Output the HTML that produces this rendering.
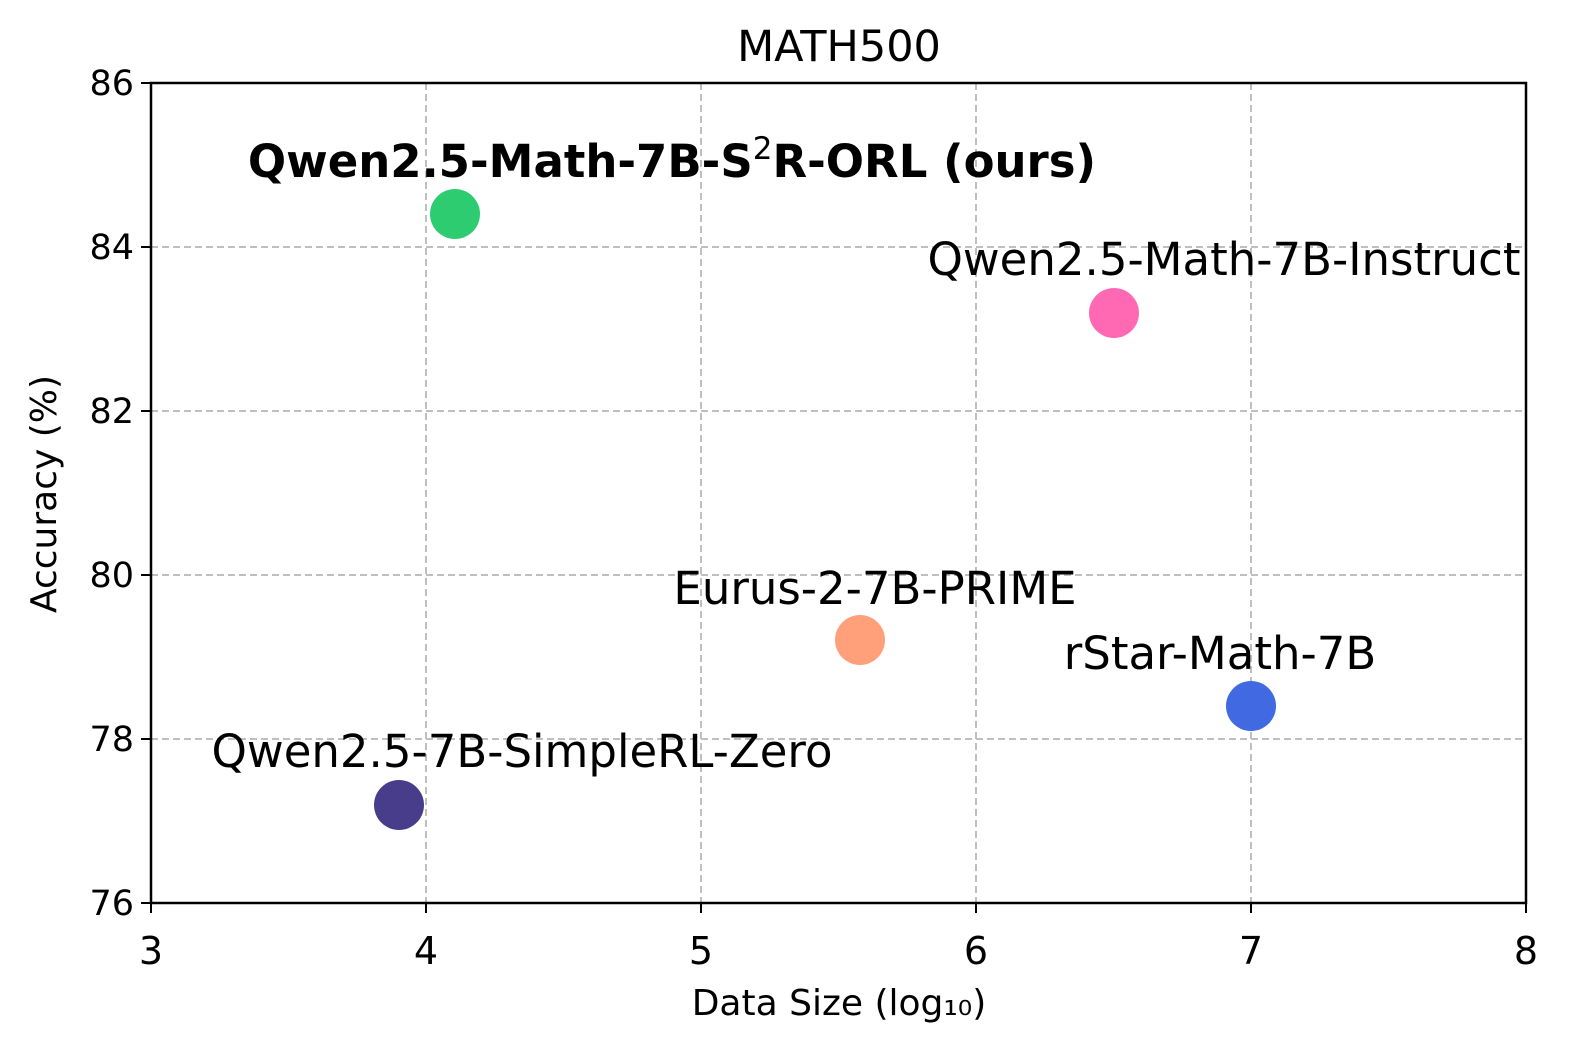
<!DOCTYPE html>
<html><head><meta charset="utf-8"><style>html,body{margin:0;padding:0;background:#fff;overflow:hidden}svg{display:block}</style></head><body>
<svg width="1578" height="1058" xmlns="http://www.w3.org/2000/svg" font-family="'DejaVu Sans', 'Liberation Sans', sans-serif">
<rect width="1578" height="1058" fill="#fff"/>
<g stroke="#b0b0b0" stroke-width="2" stroke-dasharray="7,4" opacity="0.8">
<line x1="426" y1="83" x2="426" y2="903"/><line x1="701" y1="83" x2="701" y2="903"/>
<line x1="976" y1="83" x2="976" y2="903"/><line x1="1251" y1="83" x2="1251" y2="903"/>
<line x1="151" y1="247" x2="1526" y2="247"/><line x1="151" y1="411" x2="1526" y2="411"/>
<line x1="151" y1="575" x2="1526" y2="575"/><line x1="151" y1="739" x2="1526" y2="739"/>
</g>
<g stroke="#000" stroke-width="2">
<line x1="151" y1="903" x2="151" y2="913"/><line x1="426" y1="903" x2="426" y2="913"/><line x1="701" y1="903" x2="701" y2="913"/><line x1="976" y1="903" x2="976" y2="913"/><line x1="1251" y1="903" x2="1251" y2="913"/><line x1="1526" y1="903" x2="1526" y2="913"/>
<line x1="141" y1="83" x2="151" y2="83"/><line x1="141" y1="247" x2="151" y2="247"/><line x1="141" y1="411" x2="151" y2="411"/><line x1="141" y1="575" x2="151" y2="575"/><line x1="141" y1="739" x2="151" y2="739"/><line x1="141" y1="903" x2="151" y2="903"/>
</g>
<circle cx="455" cy="214" r="25" fill="#2ecc71"/>
<circle cx="1114" cy="313" r="25" fill="#ff69b4"/>
<circle cx="860" cy="640" r="25" fill="#ffa07a"/>
<circle cx="1251" cy="706" r="25" fill="#4169e1"/>
<circle cx="399" cy="805" r="25" fill="#483d8b"/>
<rect x="151" y="83" width="1375" height="820" fill="none" stroke="#000" stroke-width="2.5"/>
<text x="839" y="61" font-size="43" text-anchor="middle">MATH500</text>
<g font-size="35" text-anchor="end">
<text x="134" y="95">86</text><text x="134" y="259">84</text><text x="134" y="423">82</text><text x="134" y="587">80</text><text x="134" y="751">78</text><text x="134" y="915">76</text>
</g>
<g font-size="38" text-anchor="middle">
<text x="151" y="964">3</text><text x="426" y="964">4</text><text x="701" y="964">5</text><text x="976" y="964">6</text><text x="1251" y="964">7</text><text x="1526" y="964">8</text>
</g>
<text x="839" y="1015" font-size="36" text-anchor="middle">Data Size (log₁₀)</text>
<text transform="translate(56,494) rotate(-90)" font-size="36" text-anchor="middle">Accuracy (%)</text>
<g font-size="45" text-anchor="middle">
<text x="672" y="177" font-weight="bold">Qwen2.5-Math-7B-S<tspan dy="-18" font-size="31" font-weight="normal">2</tspan><tspan dy="18">R-ORL (ours)</tspan></text>
<text x="1224" y="275">Qwen2.5-Math-7B-Instruct</text>
<text x="875" y="604">Eurus-2-7B-PRIME</text>
<text x="1220" y="669">rStar-Math-7B</text>
<text x="522" y="767">Qwen2.5-7B-SimpleRL-Zero</text>
</g>
</svg>
</body></html>
